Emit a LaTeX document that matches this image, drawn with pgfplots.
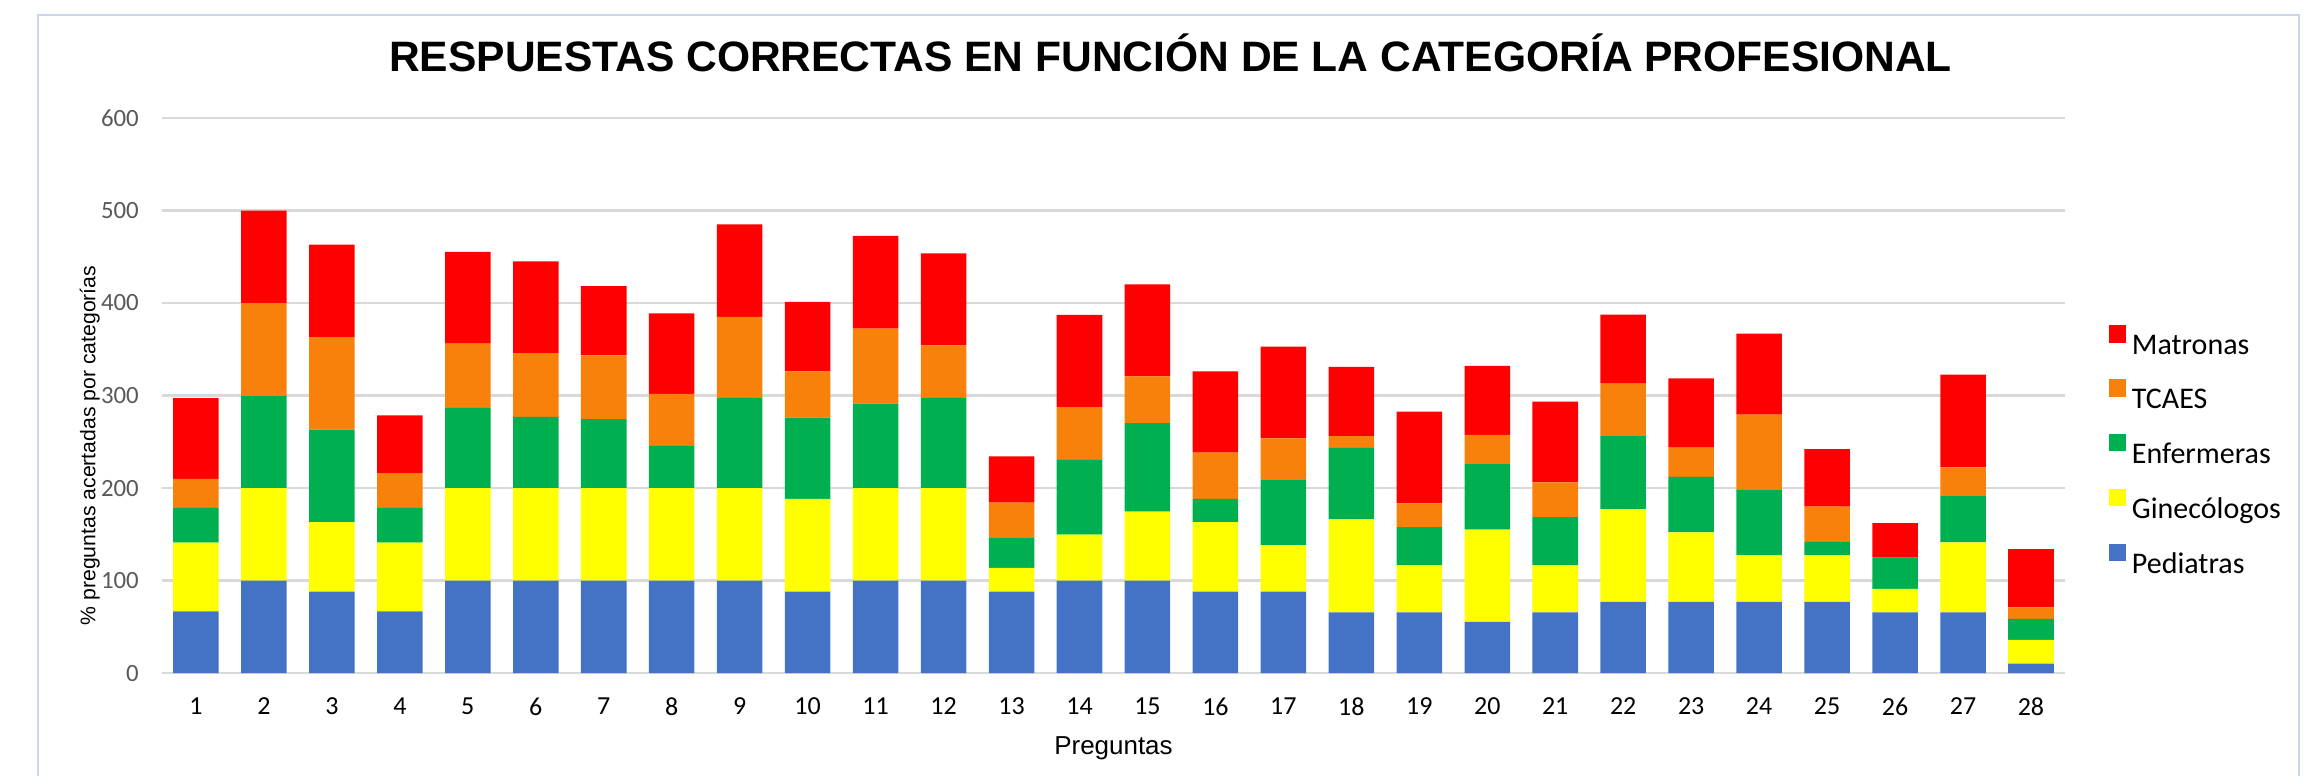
\documentclass[border=0pt]{standalone}
\usepackage{fontspec}
\setmainfont{Liberation Sans}
\newfontfamily\carlito{Carlito}
\usepackage{pgfplots}
\pgfplotsset{compat=1.18}
\usepackage{pgfplotstable}
\definecolor{cP}{HTML}{4472C4}
\definecolor{cG}{HTML}{FFFF00}
\definecolor{cE}{HTML}{00B050}
\definecolor{cT}{HTML}{F7810A}
\definecolor{cM}{HTML}{FF0000}
\definecolor{gridc}{HTML}{D9D9D9}
\definecolor{tickgrey}{HTML}{595959}
\definecolor{framec}{HTML}{CCD6EA}
\pgfplotstableread{
q P G E T M
1 66.7 74.3 37.5 31.4 87.2
2 100 100 100 100 100
3 88 75.2 100 100 100
4 66.7 74.2 37.6 37.6 62.4
5 100 100 86.8 69.4 99.2
6 100 100 76.9 69 99.1
7 100 100 74.4 69 74.8
8 100 100 45.5 56.2 87.1
9 100 100 97.5 87.6 100
10 88 100.4 87.6 50 75.2
11 100 100 91.3 81 100.4
12 100 100 97.5 56.6 99.6
13 88 25.6 33.1 37.6 50
14 100 49.6 81 57 99.6
15 100 74.4 95.8 50.5 99.5
16 88 75.2 25.2 50 87.6
17 88 50.4 71.1 44.2 99.2
18 65.7 100.4 77.3 12.8 74.8
19 65.7 50.8 41.3 25.6 99.2
20 55.4 99.6 71 31.4 74.8
21 65.7 50.8 52.1 37.6 87.2
22 76.9 100.4 78.9 56.6 74.8
23 76.9 75.2 59.9 31.8 74.8
24 76.9 50.4 70.6 81.4 87.6
25 76.9 50.4 14.4 38.1 62.3
26 65.7 25.2 33.9 0 37.2
27 65.7 75.6 50 31 100.4
28 10.3 25.7 22.7 12.4 62.8
}\data
\pgfplotsset{myleg/.style={legend image code/.code={\fill[##1] (0pt,1.5pt) rectangle (6pt,7.5pt);}}}
\begin{document}
\begin{tikzpicture}
\useasboundingbox (0,0) rectangle (800pt,269pt);
\draw[color=framec, line width=0.6pt] (13.1pt,0) -- (13.1pt,263.8pt) -- (796.9pt,263.8pt) -- (796.9pt,0);
\begin{axis}[
  at={(56.15pt,35.7pt)}, anchor=south west,
  width=659.6pt, height=192.4pt, scale only axis,
  ybar stacked, bar width=0.67,
  xmin=0.5, xmax=28.5, ymin=0, ymax=600,
  xtick={1,...,28}, ytick={0,100,...,600},
  ymajorgrids, grid style={color=gridc, line width=0.8pt},
  axis line style={draw=none},
  major tick length=0pt,
  /pgf/number format/assume math mode=true,
  xticklabel style={font=\carlito\fontsize{9}{10}\selectfont, yshift=-5pt},
  yticklabel style={font=\carlito\fontsize{8.6}{10}\selectfont, text=tickgrey, xshift=-4.5pt},
  xlabel={Preguntas},
  xlabel style={font=\fontsize{9}{11}\selectfont, at={(axis description cs:0.5,-0.135)}, anchor=center},
  ylabel={\% preguntas acertadas por categorías},
  ylabel style={font=\fontsize{7.35}{9}\selectfont, at={(axis description cs:-0.0379,0.41)}, anchor=center},
  title={RESPUESTAS CORRECTAS EN FUNCIÓN DE LA CATEGORÍA PROFESIONAL},
  title style={font=\bfseries\fontsize{14.75}{17}\selectfont, at={(axis description cs:0.53,1.052)}, anchor=base},
  reverse legend,
  legend cell align=left,
  legend style={draw=none, fill=none, at={(axis description cs:1,0.394)}, anchor=west, xshift=12pt,
    font=\carlito\fontsize{10.4}{12.5}\selectfont, row sep=5.2pt},
]
\addplot[fill=cP, draw=none, myleg] table[x=q, y=P] {\data};
\addplot[fill=cG, draw=none, myleg] table[x=q, y=G] {\data};
\addplot[fill=cE, draw=none, myleg] table[x=q, y=E] {\data};
\addplot[fill=cT, draw=none, myleg] table[x=q, y=T] {\data};
\addplot[fill=cM, draw=none, myleg] table[x=q, y=M] {\data};
\legend{Pediatras, Ginecólogos, Enfermeras, TCAES, Matronas}
\end{axis}
\end{tikzpicture}
\end{document}
